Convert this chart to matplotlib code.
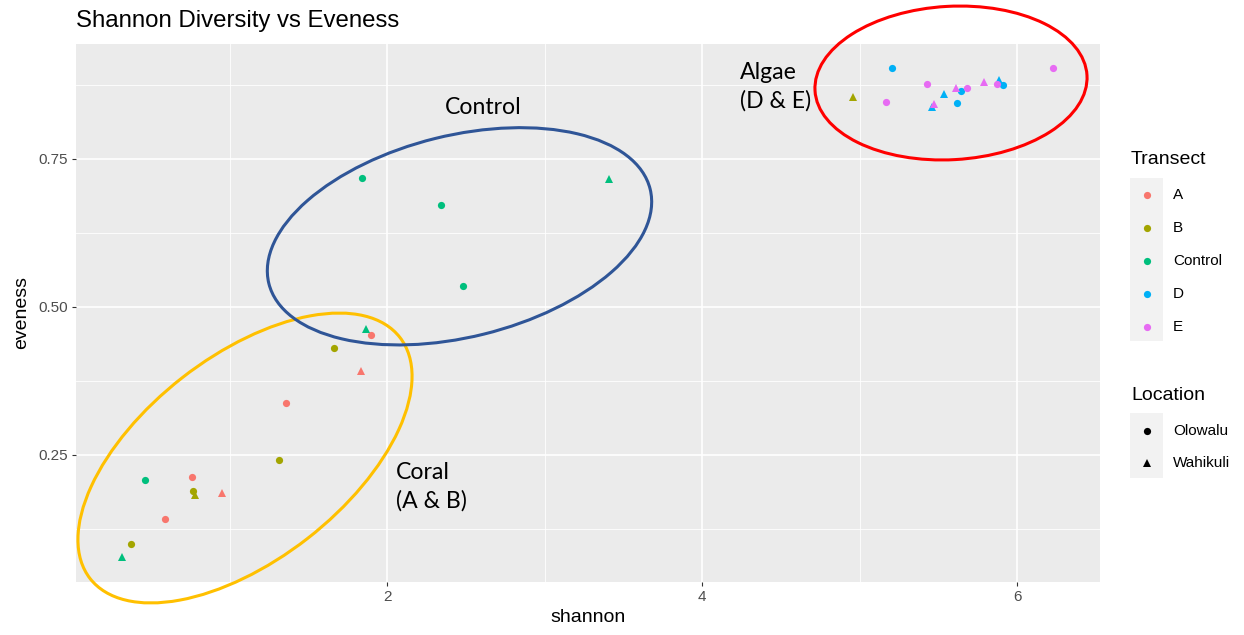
import matplotlib
matplotlib.use("Agg")
import matplotlib.pyplot as plt
from matplotlib.patches import Ellipse, Rectangle
from matplotlib.lines import Line2D
import numpy as np

# ---------------- data ----------------
transect = ["A", "A", "A", "A", "A", "A",
            "B", "B", "B", "B", "B", "B",
            "Control", "Control", "Control", "Control", "Control", "Control", "Control",
            "D", "D", "D", "D", "D", "D", "D",
            "E", "E", "E", "E", "E", "E", "E", "E"]
location = ["Olowalu", "Olowalu", "Wahikuli", "Olowalu", "Olowalu", "Wahikuli",
            "Olowalu", "Olowalu", "Wahikuli", "Olowalu", "Olowalu", "Wahikuli",
            "Olowalu", "Wahikuli", "Olowalu", "Olowalu", "Wahikuli", "Olowalu", "Wahikuli",
            "Olowalu", "Wahikuli", "Wahikuli", "Olowalu", "Olowalu", "Wahikuli", "Olowalu",
            "Olowalu", "Olowalu", "Wahikuli", "Wahikuli", "Olowalu", "Wahikuli", "Olowalu", "Olowalu"]
shannon = [0.760, 0.593, 0.954, 1.357, 1.898, 1.837,
           0.372, 0.768, 0.781, 1.314, 1.666, 4.957,
           0.463, 0.317, 1.839, 2.341, 3.410, 2.485, 1.867,
           5.204, 5.458, 5.537, 5.642, 5.621, 5.888, 5.911,
           5.170, 5.426, 5.473, 5.613, 5.685, 5.792, 5.871, 6.226]
eveness = [0.213, 0.142, 0.186, 0.337, 0.452, 0.391,
           0.100, 0.189, 0.182, 0.241, 0.430, 0.854,
           0.208, 0.078, 0.718, 0.672, 0.716, 0.535, 0.462,
           0.903, 0.837, 0.859, 0.864, 0.844, 0.883, 0.874,
           0.846, 0.877, 0.842, 0.870, 0.870, 0.879, 0.877, 0.903]

transect_levels = ["A", "B", "Control", "D", "E"]
location_levels = ["Olowalu", "Wahikuli"]
x_ticks = [2, 4, 6]
y_ticks = [0.25, 0.50, 0.75]
y_tick_labels = ["0.25", "0.50", "0.75"]

colors = {"A": "#F8766D", "B": "#A3A500", "Control": "#00BF7D",
          "D": "#00B0F6", "E": "#E76BF3"}
markers = {"Olowalu": "o", "Wahikuli": "^"}
msize = {"Olowalu": 5.2, "Wahikuli": 6.0}

W, H = 1244, 635
fig = plt.figure(figsize=(W / 100, H / 100), dpi=100)
fig.patch.set_facecolor("white")

L, R, T, B = 76, 1100, 44, 581.7
ax = fig.add_axes([L / W, (H - B) / H, (R - L) / W, (B - T) / H])
ax.set_facecolor("#EBEBEB")
ax.set_xlim(0.025, 6.527)
ax.set_ylim(0.036, 0.944)

# grid
ax.set_xticks(x_ticks)
ax.set_yticks(y_ticks)
ax.set_yticklabels(y_tick_labels)
ax.set_xticks([1, 3, 5], minor=True)
ax.set_yticks([0.125, 0.375, 0.625, 0.875], minor=True)
ax.grid(True, which="major", color="white", linewidth=1.2)
ax.grid(True, which="minor", color="white", linewidth=0.6)
ax.set_axisbelow(True)
ax.tick_params(which="minor", length=0)
ax.tick_params(which="major", length=3.2, width=0.8, color="#333333",
               labelsize=11, labelcolor="#4D4D4D", pad=2.5)
for t in ax.get_xticklabels() + ax.get_yticklabels():
    t.set_fontfamily("Liberation Sans")
for s in ax.spines.values():
    s.set_visible(False)

for tr, lo, x, y in zip(transect, location, shannon, eveness):
    ax.plot([x], [y], linestyle="none", marker=markers[lo], markersize=msize[lo],
            color=colors[tr], markeredgewidth=0, zorder=3)

ax.set_xlabel("shannon", fontsize=14, family="Liberation Sans", labelpad=4)
ax.set_ylabel("eveness", fontsize=14, family="Liberation Sans", labelpad=6)

fig.text(76 / W, 1 - 21 / H, "Shannon Diversity vs Eveness", fontsize=17.3,
         family="Liberation Sans", ha="left", va="center")

# ---------------- ellipses (pixel coords -> inches) ----------------
def px_ellipse(cx, cy, a, b, ang, color):
    e = Ellipse(((cx) / 100, (H - cy) / 100), 2 * a / 100, 2 * b / 100, angle=ang,
                transform=fig.dpi_scale_trans, fill=False, edgecolor=color,
                linewidth=2.2, zorder=10, clip_on=False)
    fig.add_artist(e)

px_ellipse(245, 458, 196.3, 101.9, 37.9, "#FFC000")
px_ellipse(459.5, 236.3, 196.4, 100.8, 13.9, "#2F5597")
px_ellipse(951, 83, 136.2, 76.7, 3.2, "#FF0000")

# annotations
fig.text(740 / W, 1 - 87 / H, "Algae\n(D & E)", fontsize=16.6, family="Lato",
         ha="left", va="center", linespacing=1.4)
fig.text(483 / W, 1 - 108 / H, "Control", fontsize=16.6, family="Lato",
         ha="center", va="center")
fig.text(396 / W, 1 - 487 / H, "Coral\n(A & B)", fontsize=16.6, family="Lato",
         ha="left", va="center", linespacing=1.4)

# ---------------- legends (manual, ggplot style) ----------------
def fig_marker(xp, yp, marker, color, ms):
    fig.add_artist(Line2D([xp / 100], [(H - yp) / 100], transform=fig.dpi_scale_trans,
                          marker=marker, color=color, markersize=ms,
                          markeredgewidth=0, linestyle="none"))

def key_bg(y0, y1):
    fig.add_artist(Rectangle((1130 / 100, (H - y1) / 100), 33 / 100, (y1 - y0) / 100,
                             transform=fig.dpi_scale_trans, facecolor="#F2F2F2",
                             edgecolor="none"))

fig.text(1131 / W, 1 - 160 / H, "Transect", fontsize=14, family="Liberation Sans",
         ha="left", va="center")
key_bg(178, 341)
for i, lv in enumerate(transect_levels):
    yy = 195 + 33 * i
    fig_marker(1147, yy, "o", colors[lv], 5.2)
    fig.text(1173 / W, 1 - yy / H, lv, fontsize=11, family="Liberation Sans",
             ha="left", va="center")

fig.text(1131 / W, 1 - 395 / H, "Location", fontsize=14, family="Liberation Sans",
         ha="left", va="center")
key_bg(413, 478)
for i, lv in enumerate(location_levels):
    yy = 431 + 32 * i
    fig_marker(1147, yy, markers[lv], "black", msize[lv])
    fig.text(1173 / W, 1 - yy / H, lv, fontsize=11, family="Liberation Sans",
             ha="left", va="center")

fig.savefig("out.png", dpi=100, facecolor="white")
